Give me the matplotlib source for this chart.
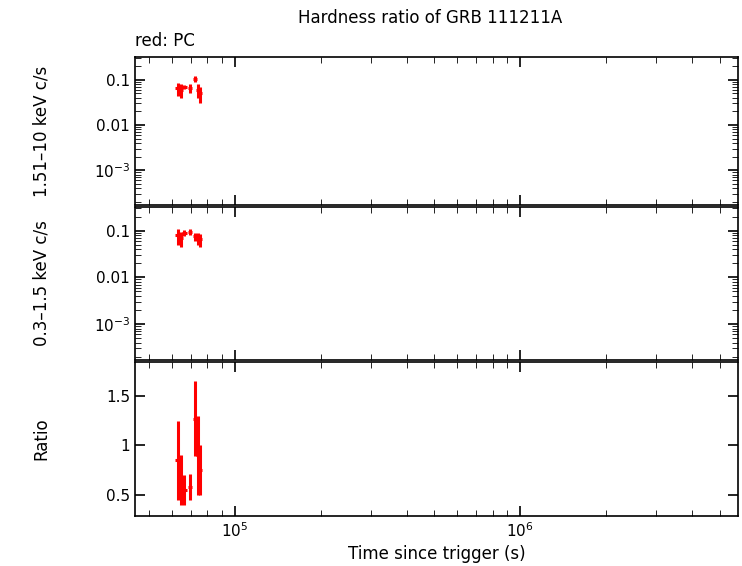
import numpy as np
import matplotlib.pyplot as plt

# PC mode data (time in s)
t = [63000, 64500, 66500, 69500, 72500, 74000, 75500]
t_lo = [1500, 1000, 1200, 1000, 1200, 800, 800]
t_hi = [1500, 1000, 1200, 1000, 1200, 800, 800]

hard = [0.065, 0.06, 0.07, 0.065, 0.105, 0.06, 0.05]
hard_err = [0.02, 0.02, 0.008, 0.015, 0.015, 0.02, 0.02]

soft = [0.08, 0.07, 0.09, 0.095, 0.075, 0.07, 0.065]
soft_err = [0.03, 0.025, 0.015, 0.015, 0.015, 0.02, 0.02]

ratio = [0.85, 0.65, 0.55, 0.58, 1.27, 0.9, 0.75]
ratio_err = [0.4, 0.25, 0.15, 0.13, 0.38, 0.4, 0.25]

fig = plt.figure(figsize=(7.42, 5.66), dpi=100)
left, width = 135 / 742, (738 - 135) / 742
ax1 = fig.add_axes([left, 1 - 205 / 566, width, 148 / 566])
ax2 = fig.add_axes([left, 1 - 360 / 566, width, 153 / 566], sharex=ax1)
ax3 = fig.add_axes([left, 1 - 516 / 566, width, 154 / 566], sharex=ax1)

kw = dict(fmt='none', ecolor='red', elinewidth=2.2, capsize=0)
ax1.errorbar(t, hard, xerr=[t_lo, t_hi], yerr=hard_err, **kw)
ax2.errorbar(t, soft, xerr=[t_lo, t_hi], yerr=soft_err, **kw)
ax3.errorbar(t, ratio, xerr=[t_lo, t_hi], yerr=ratio_err, **kw)

for ax in (ax1, ax2):
    ax.set_yscale('log')
    ax.set_ylim(1.7e-4, 0.32)
    ax.set_yticks([1e-3, 0.01, 0.1])
    ax.set_yticklabels(['$10^{-3}$', '0.01', '0.1'])
ax3.set_ylim(0.29, 1.84)
ax3.set_yticks([0.5, 1, 1.5])
ax3.set_yticklabels(['0.5', '1', '1.5'])

ax1.set_xscale('log')
ax1.set_xlim(44600, 5.8e6)
for ax in (ax1, ax2, ax3):
    ax.tick_params(which='both', direction='in', top=True, right=True, labelsize=11)
    ax.tick_params(which='major', length=7, width=1.2)
    ax.tick_params(which='minor', length=4)
    for s in ax.spines.values():
        s.set_linewidth(1.2)
ax1.tick_params(labelbottom=False)
ax2.tick_params(labelbottom=False)

ax1.set_ylabel('1.51–10 keV c/s', fontsize=12)
ax2.set_ylabel('0.3–1.5 keV c/s', fontsize=12)
ax3.set_ylabel('Ratio', fontsize=12)
ax3.set_xlabel('Time since trigger (s)', fontsize=12)
for ax in (ax1, ax2, ax3):
    ax.yaxis.set_label_coords(-0.14, 0.5)

fig.text(0.58, 1 - 18 / 566, 'Hardness ratio of GRB 111211A', ha='center', va='center', fontsize=12)
fig.text(left, 1 - 41 / 566, 'red: PC', ha='left', va='center', fontsize=12)

fig.savefig('out.png', dpi=100)
